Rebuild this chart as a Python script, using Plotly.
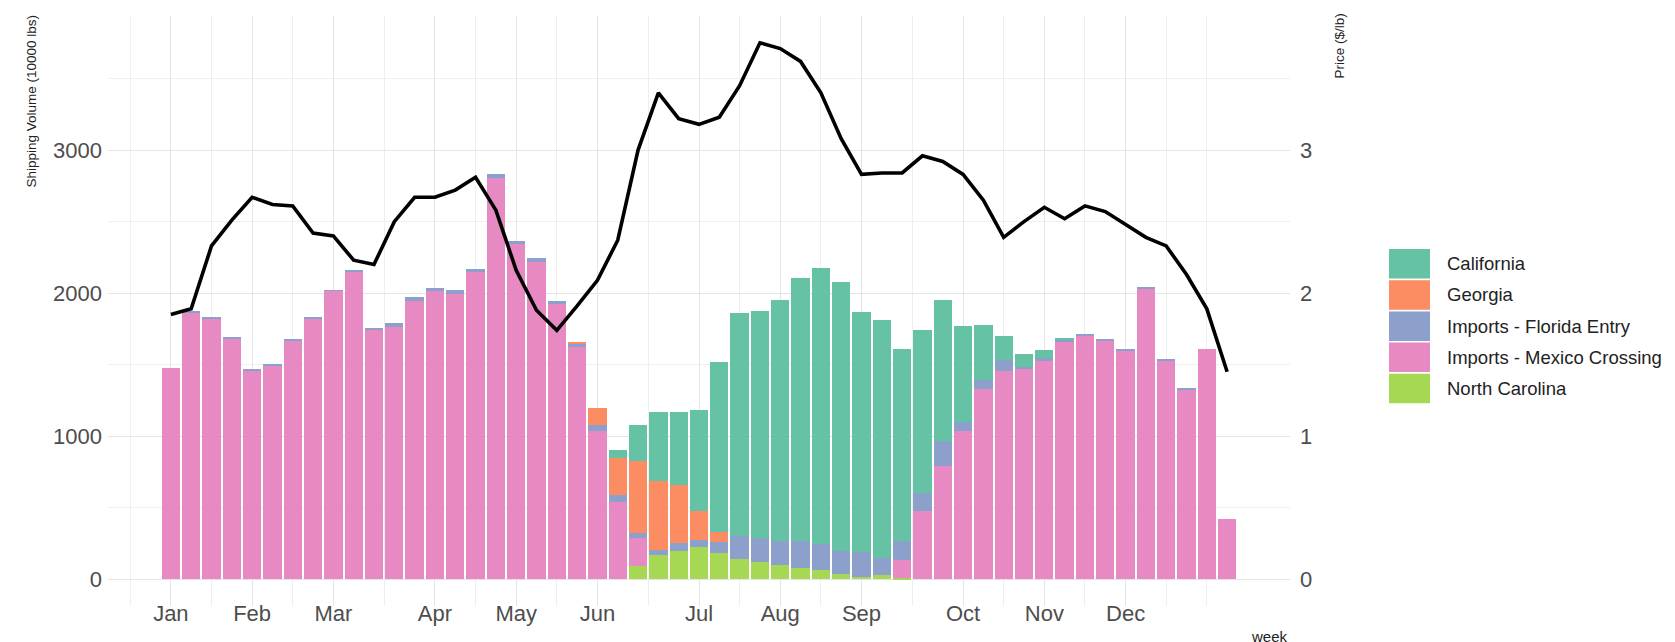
import plotly.graph_objects as go

# ---------------- data ----------------
weeks = list(range(1, 54))
month_labels = ["Jan", "Feb", "Mar", "Apr", "May", "Jun", "Jul", "Aug", "Sep", "Oct", "Nov", "Dec"]
month_weeks = [1, 5, 9, 14, 18, 22, 27, 31, 35, 40, 44, 48]
minor_weeks = [-1, 3, 7, 11.5, 16, 20, 24.5, 29, 33, 37.5, 42, 46, 50, 52]

volume_ticks = [0, 1000, 2000, 3000]
volume_minor = [500, 1500, 2500, 3500]
price_ticks = [0, 1, 2, 3]

north_carolina = [0, 0, 0, 0, 0, 0, 0, 0, 0, 0,
                  0, 0, 0, 0, 0, 0, 0, 0, 0, 0,
                  0, 0, 0, 91, 169, 199, 227, 180, 143, 120,
                  101, 78, 62, 38, 17, 27, 8, 0, 0, 0,
                  0, 0, 0, 0, 0, 0, 0, 0, 0, 0,
                  0, 0, 0]
mexico = [1480, 1864, 1826, 1682, 1461, 1494, 1666, 1825, 2015, 2149,
          1746, 1765, 1948, 2016, 1995, 2146, 2803, 2346, 2221, 1923,
          1622, 1039, 540, 198, 0, 0, 0, 0, 0, 0,
          0, 0, 0, 0, 0, 0, 128, 474, 790, 1039,
          1331, 1454, 1470, 1528, 1656, 1703, 1670, 1600, 2033, 1530,
          1328, 1612, 418]
florida = [0, 8, 8, 8, 8, 5, 8, 5, 3, 7,
           9, 23, 23, 23, 28, 21, 28, 19, 23, 23,
           23, 40, 48, 35, 37, 51, 47, 80, 156, 170,
           163, 191, 186, 159, 175, 123, 128, 128, 175, 58,
           60, 81, 12, 19, 14, 11, 12, 7, 7, 5,
           5, 0, 0]
georgia = [0, 0, 0, 0, 0, 0, 0, 0, 0, 0,
           0, 0, 0, 0, 0, 0, 0, 0, 0, 0,
           9, 118, 256, 505, 480, 412, 202, 72, 0, 0,
           0, 0, 0, 0, 0, 0, 0, 0, 0, 0,
           0, 0, 0, 0, 0, 0, 0, 0, 0, 0,
           0, 0, 0]
california = [0, 0, 0, 0, 0, 0, 0, 0, 0, 0,
              0, 0, 0, 0, 0, 0, 0, 0, 0, 0,
              0, 0, 58, 246, 481, 510, 710, 1185, 1564, 1587,
              1688, 1836, 1927, 1883, 1674, 1662, 1346, 1140, 985, 673,
              386, 163, 93, 53, 16, 0, 0, 0, 0, 0,
              0, 0, 0]
price = [1.85, 1.89, 2.33, 2.51, 2.67, 2.62, 2.61, 2.42, 2.40, 2.23,
         2.20, 2.50, 2.67, 2.67, 2.72, 2.81, 2.58, 2.16, 1.88, 1.74,
         1.91, 2.09, 2.37, 3.00, 3.40, 3.22, 3.18, 3.23, 3.45, 3.75,
         3.71, 3.62, 3.40, 3.08, 2.83, 2.84, 2.84, 2.96, 2.92, 2.83,
         2.65, 2.39, 2.50, 2.60, 2.52, 2.61, 2.57, 2.48, 2.39, 2.33,
         2.13, 1.89, 1.45]

series_names = ["California", "Georgia", "Imports - Florida Entry",
                "Imports - Mexico Crossing", "North Carolina"]
series_values = [california, georgia, florida, mexico, north_carolina]
series_colors = ["#66C2A5", "#FC8D62", "#8DA0CB", "#E78AC3", "#A6D854"]

# ---------------- figure ----------------
W, H = 1675, 642
ML, MR, MT, MB = 100, 393, 8, 44
PW, PH = W - ML - MR, H - MT - MB

FONT = "Liberation Sans, Arial, sans-serif"
TICK_COLOR = "#4d4d4d"
GRID_MAJOR = "#e5e5e5"
GRID_MINOR = "#efefef"

fig = go.Figure()

# stacked bars: bottom first
for name, vals, col in reversed(list(zip(series_names, series_values, series_colors))):
    fig.add_trace(go.Bar(x=weeks, y=vals, name=name, marker=dict(color=col, line=dict(width=0)),
                         width=0.9, showlegend=False, yaxis="y"))

fig.add_trace(go.Scatter(x=weeks, y=price, mode="lines", name="Price",
                         line=dict(color="black", width=3.6), showlegend=False, yaxis="y2"))


def px_to_paper_x(px):
    return (px - ML) / PW


def px_to_paper_y(py):
    return (H - MB - py) / PH


# custom legend (swatches + labels)
shapes = []
annotations = []
sw_x0, sw_x1 = 1381, 1422
first_top, step, sw_h = 241, 31.2, 29.5
for i, (name, col) in enumerate(zip(series_names, series_colors)):
    top = first_top + i * step
    shapes.append(dict(type="rect", xref="paper", yref="paper",
                       x0=px_to_paper_x(sw_x0), x1=px_to_paper_x(sw_x1),
                       y0=px_to_paper_y(top + sw_h), y1=px_to_paper_y(top),
                       fillcolor=col, line=dict(width=0), layer="above"))
    annotations.append(dict(xref="paper", yref="paper", x=px_to_paper_x(1437),
                            y=px_to_paper_y(top + sw_h / 2), xanchor="left", yanchor="middle",
                            text=name, showarrow=False,
                            font=dict(family=FONT, size=18.5, color="#222222")))

# axis titles
annotations.append(dict(xref="paper", yref="paper", x=px_to_paper_x(23), y=px_to_paper_y(5),
                        xanchor="center", yanchor="top", textangle=-90, showarrow=False,
                        text="Shipping Volume (10000 lbs)",
                        font=dict(family=FONT, size=13.5, color="#222222")))
annotations.append(dict(xref="paper", yref="paper", x=px_to_paper_x(1331), y=px_to_paper_y(4),
                        xanchor="center", yanchor="top", textangle=-90, showarrow=False,
                        text="Price ($/lb)",
                        font=dict(family=FONT, size=13.5, color="#222222")))
annotations.append(dict(xref="paper", yref="paper", x=1.0, y=px_to_paper_y(628),
                        xanchor="right", yanchor="middle", showarrow=False,
                        text="week", font=dict(family=FONT, size=15, color="#222222")))

fig.update_layout(
    width=W, height=H,
    margin=dict(l=ML, r=MR, t=MT, b=MB, pad=0),
    paper_bgcolor="white", plot_bgcolor="white",
    barmode="stack", bargap=0.1,
    font=dict(family=FONT, color=TICK_COLOR),
    shapes=shapes, annotations=annotations,
    xaxis=dict(range=[-2.095, 56.095], tickmode="array", tickvals=month_weeks, ticktext=month_labels,
               showgrid=True, gridcolor=GRID_MAJOR, gridwidth=1.3, zeroline=False, showline=False,
               ticks="", tickfont=dict(size=22, color=TICK_COLOR), ticklabelstandoff=-8,
               minor=dict(tickmode="array", tickvals=minor_weeks, showgrid=True,
                          gridcolor=GRID_MINOR, gridwidth=1.0, ticks="")),
    yaxis=dict(range=[-187.5, 3937.5], tickmode="array", tickvals=volume_ticks,
               showgrid=True, gridcolor=GRID_MAJOR, gridwidth=1.3, zeroline=False, showline=False,
               ticks="", tickfont=dict(size=22, color=TICK_COLOR), ticklabelstandoff=5,
               minor=dict(tickmode="array", tickvals=volume_minor, showgrid=True,
                          gridcolor=GRID_MINOR, gridwidth=1.0, ticks="")),
    yaxis2=dict(range=[-0.1875, 3.9375], overlaying="y", side="right", tickmode="array",
                tickvals=price_ticks, showgrid=False, zeroline=False, showline=False, ticks="",
                tickfont=dict(size=22, color=TICK_COLOR), ticklabelstandoff=9),
)

fig.write_html("out.html")
